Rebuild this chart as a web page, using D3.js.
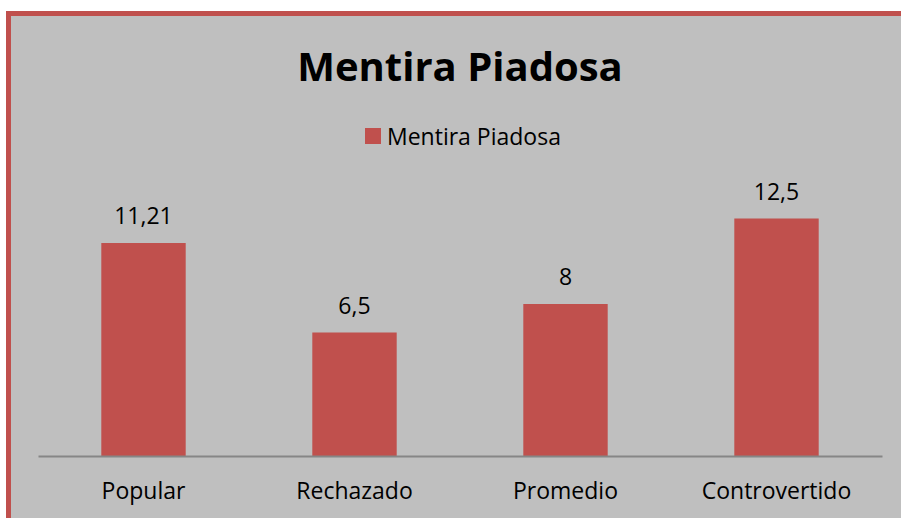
<!doctype html>
<html>
<head>
<meta charset="utf-8">
<script src="https://cdnjs.cloudflare.com/ajax/libs/d3/7.8.5/d3.min.js"></script>
<style>
  body { margin: 0; background: #fff; }
  svg { display: block; font-family: "Open Sans", sans-serif; }
  .bar { fill: #C0504D; }
  .lbl { font-size: 23px; fill: #000; }
</style>
</head>
<body>
<svg width="901" height="518"></svg>
<script>
var categories = ["Popular", "Rechazado", "Promedio", "Controvertido"];
var values = [11.21, 6.5, 8, 12.5];
var valueLabels = ["11,21", "6,5", "8", "12,5"];
var seriesName = "Mentira Piadosa";

var svg = d3.select("svg");

// chart area with the red frame (top + left only visible)
svg.append("rect").attr("x", 11).attr("y", 16).attr("width", 900).attr("height", 510).attr("fill", "#bfbfbf");
svg.append("rect").attr("x", 6).attr("y", 11).attr("width", 900).attr("height", 5).attr("fill", "#C0504D");
svg.append("rect").attr("x", 6).attr("y", 11).attr("width", 5).attr("height", 510).attr("fill", "#C0504D");

var x = d3.scaleBand().domain(categories).range([38, 882]).paddingInner(0.6).paddingOuter(0.3);
var y = d3.scaleLinear().domain([0, 14]).range([456, 190]);

svg.append("text")
  .attr("x", 460).attr("y", 81)
  .attr("text-anchor", "middle")
  .style("font-size", "40px").style("font-weight", "bold")
  .text(seriesName);

// legend
svg.append("rect").attr("x", 365).attr("y", 128).attr("width", 16).attr("height", 16).attr("class", "bar");
svg.append("text").attr("class", "lbl").attr("x", 387).attr("y", 145).text(seriesName);

svg.selectAll("rect.bar.v").data(values).enter().append("rect")
  .attr("class", "bar v")
  .attr("x", (d, i) => x(categories[i]))
  .attr("width", x.bandwidth())
  .attr("y", d => y(d))
  .attr("height", d => y(0) - y(d));

svg.selectAll("text.val").data(values).enter().append("text")
  .attr("class", "lbl val")
  .attr("text-anchor", "middle")
  .attr("x", (d, i) => x(categories[i]) + x.bandwidth() / 2)
  .attr("y", d => y(d) - 19)
  .text((d, i) => valueLabels[i]);

var axis = svg.append("g").attr("transform", "translate(0,456)")
  .call(d3.axisBottom(x).tickSize(0).tickPadding(27));
axis.select(".domain").attr("stroke", "#868686").attr("stroke-width", 2);
axis.selectAll("text").attr("class", "lbl").style("font-family", "Open Sans, sans-serif").attr("fill", "#000");
</script>
</body>
</html>
